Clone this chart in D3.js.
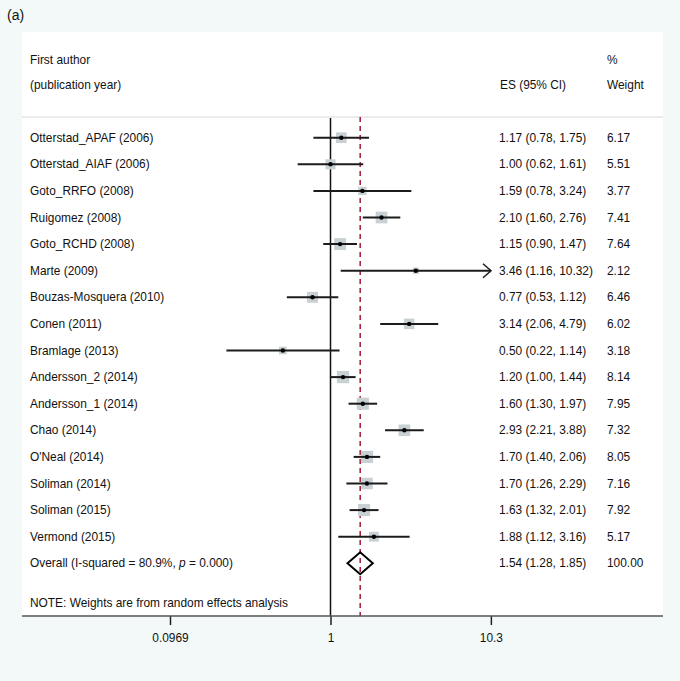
<!DOCTYPE html>
<html><head><meta charset="utf-8">
<script src="https://cdn.jsdelivr.net/npm/d3@7"></script>
<style>body{margin:0;background:#f2f9f8;}svg{display:block;font-family:"Liberation Sans",Arial,Helvetica,sans-serif;}</style>
</head><body><svg id="c" width="680" height="681"></svg>
<script>
const studies = ["Otterstad_APAF (2006)","Otterstad_AIAF (2006)","Goto_RRFO (2008)","Ruigomez (2008)","Goto_RCHD (2008)","Marte (2009)","Bouzas-Mosquera (2010)","Conen (2011)","Bramlage (2013)","Andersson_2 (2014)","Andersson_1 (2014)","Chao (2014)","O'Neal (2014)","Soliman (2014)","Soliman (2015)","Vermond (2015)"];
const es    = [1.17,1.00,1.59,2.10,1.15,3.46,0.77,3.14,0.50,1.20,1.60,2.93,1.70,1.70,1.63,1.88];
const lower = [0.78,0.62,0.78,1.60,0.90,1.16,0.53,2.06,0.22,1.00,1.30,2.21,1.40,1.26,1.32,1.12];
const upper = [1.75,1.61,3.24,2.76,1.47,10.32,1.12,4.79,1.14,1.44,1.97,3.88,2.06,2.29,2.01,3.16];
const weight = [6.17,5.51,3.77,7.41,7.64,2.12,6.46,6.02,3.18,8.14,7.95,7.32,8.05,7.16,7.92,5.17];
const overall = {es:1.54, lower:1.28, upper:1.85, weight:100.00};
const tickValues = [0.0969, 1, 10.3];
const tickLabels = ["0.0969","1","10.3"];
const axisMax = 10.32;

const svg = d3.select("#c");
const fs = 11.9;
// panel
svg.append("rect").attr("x",22).attr("y",32).attr("width",641).attr("height",584).attr("fill","#fff");
svg.append("text").attr("x",7).attr("y",20).attr("font-size",14).attr("fill","#111").text("(a)");

const x = d3.scaleLog().domain([1/axisMax, axisMax]).range([170, 491]);
const y = d3.scaleLinear().domain([0,1]).range([137.7, 164.3]);
const sz = d3.scaleSqrt().domain([0,1]).range([0,4.3]);
const fmt = d3.format(".2f");

// headers
const hdr = [["First author",30,64],["(publication year)",30,89],["ES (95% CI)",500,89],["%",607,64],["Weight",607,89]];
svg.selectAll("text.h").data(hdr).join("text").attr("class","h")
  .attr("x",d=>d[1]).attr("y",d=>d[2]).attr("font-size",fs).attr("fill","#111").text(d=>d[0]);
svg.append("line").attr("x1",22).attr("x2",663).attr("y1",117).attr("y2",117).attr("stroke","#d8d8d8").attr("stroke-width",1);

// null line
svg.append("line").attr("x1",x(1)).attr("x2",x(1)).attr("y1",118).attr("y2",616).attr("stroke","#111").attr("stroke-width",1.5);
// overall dashed line
svg.append("line").attr("x1",x(overall.es)).attr("x2",x(overall.es)).attr("y1",117).attr("y2",616)
  .attr("stroke","#9e1b34").attr("stroke-width",1.5).attr("stroke-dasharray","5,4");

const rows = studies.map((s,i)=>({s,i,es:es[i],lo:lower[i],hi:upper[i],w:weight[i]}));
// boxes
svg.selectAll("rect.box").data(rows).join("rect").attr("class","box")
  .attr("x",d=>x(d.es)-sz(d.w)/2).attr("y",d=>y(d.i)-sz(d.w)/2)
  .attr("width",d=>sz(d.w)).attr("height",d=>sz(d.w)).attr("fill","#c8d0d4");
// CI lines
svg.selectAll("line.ci").data(rows).join("line").attr("class","ci")
  .attr("x1",d=>x(d.lo)).attr("x2",d=>x(Math.min(d.hi,axisMax))).attr("y1",d=>y(d.i)).attr("y2",d=>y(d.i))
  .attr("stroke","#1c1c1c").attr("stroke-width",2);
// arrows
rows.filter(d=>d.hi>=axisMax).forEach(d=>{
  const xe = x(axisMax), yy = y(d.i);
  svg.append("path").attr("d",`M${xe-8},${yy-7}L${xe},${yy}L${xe-8},${yy+7}`)
    .attr("fill","none").attr("stroke","#1c1c1c").attr("stroke-width",1.5);
});
// points
svg.selectAll("circle.pt").data(rows).join("circle").attr("class","pt")
  .attr("cx",d=>x(d.es)).attr("cy",d=>y(d.i)).attr("r",2.2).attr("fill","#000");
// labels
svg.selectAll("text.lab").data(rows).join("text").attr("class","lab")
  .attr("x",30).attr("y",d=>y(d.i)+4).attr("font-size",fs).attr("fill","#111").text(d=>d.s);
svg.selectAll("text.est").data(rows).join("text").attr("class","est")
  .attr("x",499).attr("y",d=>y(d.i)+4).attr("font-size",fs).attr("fill","#111")
  .text(d=>`${fmt(d.es)} (${fmt(d.lo)}, ${fmt(d.hi)})`);
svg.selectAll("text.wt").data(rows).join("text").attr("class","wt")
  .attr("x",607).attr("y",d=>y(d.i)+4).attr("font-size",fs).attr("fill","#111").text(d=>fmt(d.w));

// overall
const yo = y(studies.length);
svg.append("path").attr("d",`M${x(overall.lower)},${yo}L${x(overall.es)},${yo-11}L${x(overall.upper)},${yo}L${x(overall.es)},${yo+11}Z`)
  .attr("fill","none").attr("stroke","#000").attr("stroke-width",2);
const ot = svg.append("text").attr("x",30).attr("y",yo+4).attr("font-size",fs).attr("fill","#111");
ot.append("tspan").text("Overall (I-squared = 80.9%, ");
ot.append("tspan").attr("font-style","italic").text("p");
ot.append("tspan").text(" = 0.000)");
svg.append("text").attr("x",499).attr("y",yo+4).attr("font-size",fs).attr("fill","#111")
  .text(`${fmt(overall.es)} (${fmt(overall.lower)}, ${fmt(overall.upper)})`);
svg.append("text").attr("x",607).attr("y",yo+4).attr("font-size",fs).attr("fill","#111").text(fmt(overall.weight));
svg.append("text").attr("x",30).attr("y",607).attr("font-size",fs).attr("fill","#111").text("NOTE: Weights are from random effects analysis");

// axis
const ax = svg.append("g").attr("transform","translate(0,616)")
  .call(d3.axisBottom(x).tickValues(tickValues).tickFormat((d,i)=>tickLabels[i]).tickSize(9).tickPadding(9));
ax.select(".domain").remove();
ax.selectAll(".tick line").attr("stroke","#222").attr("stroke-width",1.5);
ax.selectAll(".tick text").attr("font-size",fs).attr("fill","#111").attr("font-family","Liberation Sans, Arial, sans-serif");
svg.append("line").attr("x1",22).attr("x2",663).attr("y1",616).attr("y2",616).attr("stroke","#555").attr("stroke-width",1.5);
</script></body></html>
